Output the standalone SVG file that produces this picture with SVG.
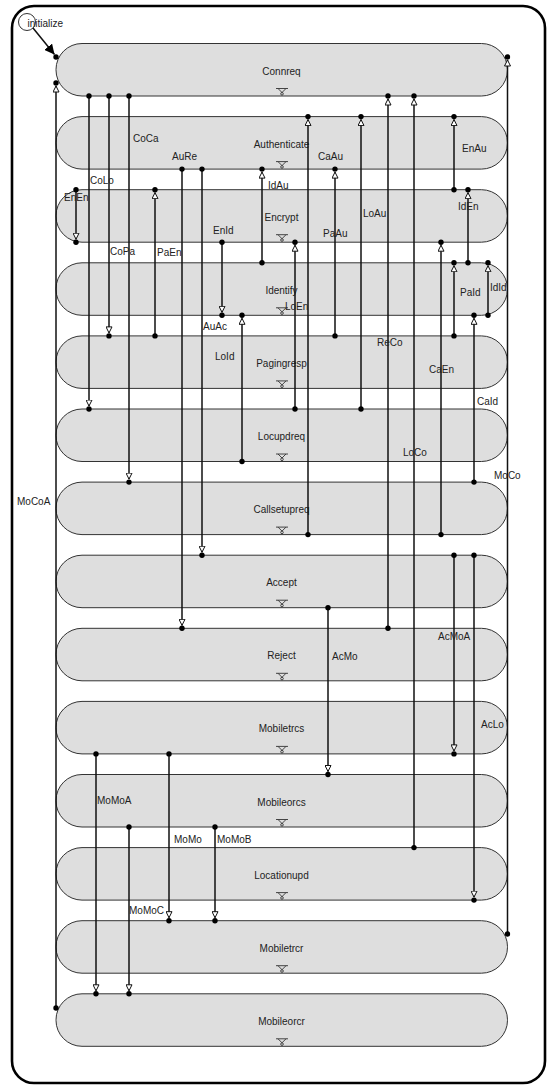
<svg xmlns="http://www.w3.org/2000/svg" width="547" height="1085" viewBox="0 0 547 1085">
<style>
.frame{fill:#fff;stroke:#000;stroke-width:2.6}
.node rect{fill:#dedede;stroke:#333;stroke-width:1}
.node text{font-family:"Liberation Sans",Arial,sans-serif;font-size:10px;fill:#222;text-anchor:middle}
.ico{fill:none;stroke:#333;stroke-width:0.9}
.c{fill:none;stroke:#111;stroke-width:1.5;marker-end:url(#ah)}
.d{fill:#000}
.lbl{font-family:"Liberation Sans",Arial,sans-serif;font-size:10px;fill:#222}
</style>
<defs>
<marker id="ah" viewBox="0 0 7 7" refX="6.5" refY="3.5" markerWidth="7" markerHeight="7" markerUnits="userSpaceOnUse" orient="auto">
<path d="M0.5,0.5 L6.5,3.5 L0.5,6.5 Z" fill="#fff" stroke="#111" stroke-width="1"/>
</marker>
<marker id="fh" viewBox="0 0 10 10" refX="10" refY="5" markerWidth="10" markerHeight="10" markerUnits="userSpaceOnUse" orient="auto">
<path d="M0,0 L10,5 L0,10 Z" fill="#000"/>
</marker>
<g id="ico" class="ico">
<path d="M-6,0 H6 M-4,0 L0,4 L4,0"/>
<circle cx="0" cy="5.3" r="1.3"/>
</g>
</defs>
<rect class="frame" x="12" y="6" width="533" height="1077" rx="22"/>

<g id="init">
<circle cx="27" cy="22" r="8.5" fill="#fff" stroke="#333" stroke-width="1"/>
<text class="lbl" x="27.5" y="27">initialize</text>
</g>

<g id="Connreq" class="node"><rect x="56" y="43.5" width="451.5" height="52.5" rx="26"/><text x="281.5" y="74.5">Connreq</text><use href="#ico" x="282" y="88.5"/></g>
<g id="Authenticate" class="node"><rect x="56" y="116.6" width="451.5" height="52.5" rx="26"/><text x="281.5" y="147.6">Authenticate</text><use href="#ico" x="282" y="161.6"/></g>
<g id="Encrypt" class="node"><rect x="56" y="189.7" width="451.5" height="52.5" rx="26"/><text x="281.5" y="220.7">Encrypt</text><use href="#ico" x="282" y="234.7"/></g>
<g id="Identify" class="node"><rect x="56" y="262.8" width="451.5" height="52.5" rx="26"/><text x="281.5" y="293.8">Identify</text><use href="#ico" x="282" y="307.8"/></g>
<g id="Pagingresp" class="node"><rect x="56" y="335.9" width="451.5" height="52.5" rx="26"/><text x="281.5" y="366.9">Pagingresp</text><use href="#ico" x="282" y="380.9"/></g>
<g id="Locupdreq" class="node"><rect x="56" y="409" width="451.5" height="52.5" rx="26"/><text x="281.5" y="440">Locupdreq</text><use href="#ico" x="282" y="454"/></g>
<g id="Callsetupreq" class="node"><rect x="56" y="482.1" width="451.5" height="52.5" rx="26"/><text x="281.5" y="513.1">Callsetupreq</text><use href="#ico" x="282" y="527.1"/></g>
<g id="Accept" class="node"><rect x="56" y="555.2" width="451.5" height="52.5" rx="26"/><text x="281.5" y="586.2">Accept</text><use href="#ico" x="282" y="600.2"/></g>
<g id="Reject" class="node"><rect x="56" y="628.3" width="451.5" height="52.5" rx="26"/><text x="281.5" y="659.3">Reject</text><use href="#ico" x="282" y="673.3"/></g>
<g id="Mobiletrcs" class="node"><rect x="56" y="701.4" width="451.5" height="52.5" rx="26"/><text x="281.5" y="732.4">Mobiletrcs</text><use href="#ico" x="282" y="746.4"/></g>
<g id="Mobileorcs" class="node"><rect x="56" y="774.5" width="451.5" height="52.5" rx="26"/><text x="281.5" y="805.5">Mobileorcs</text><use href="#ico" x="282" y="819.5"/></g>
<g id="Locationupd" class="node"><rect x="56" y="847.6" width="451.5" height="52.5" rx="26"/><text x="281.5" y="878.6">Locationupd</text><use href="#ico" x="282" y="892.6"/></g>
<g id="Mobiletrcr" class="node"><rect x="56" y="920.7" width="451.5" height="52.5" rx="26"/><text x="281.5" y="951.7">Mobiletrcr</text><use href="#ico" x="282" y="965.7"/></g>
<g id="Mobileorcr" class="node"><rect x="56" y="993.8" width="451.5" height="52.5" rx="26"/><text x="281.5" y="1024.8">Mobileorcr</text><use href="#ico" x="282" y="1038.8"/></g>

<g id="connectors">
<path d="M33,28 L54.5,54.5" fill="none" stroke="#111" stroke-width="1.5" marker-end="url(#fh)"/>
<circle class="d" cx="56" cy="57" r="2.7"/>

<path class="c" d="M56,1008 V86"/><circle class="d" cx="56" cy="1008" r="2.7"/><circle class="d" cx="56" cy="83" r="2.7"/>
<path class="c" d="M507.5,934 V60"/><circle class="d" cx="507.5" cy="934" r="2.7"/><circle class="d" cx="507.5" cy="57" r="2.7"/>

<path class="c" d="M89,96 V406"/><circle class="d" cx="89" cy="96" r="2.7"/><circle class="d" cx="89" cy="409" r="2.7"/>
<path class="c" d="M109,96 V332.9"/><circle class="d" cx="109" cy="96" r="2.7"/><circle class="d" cx="109" cy="335.9" r="2.7"/>
<path class="c" d="M129,96 V479.1"/><circle class="d" cx="129" cy="96" r="2.7"/><circle class="d" cx="129" cy="482.1" r="2.7"/>
<path class="c" d="M182,169.1 V625.3"/><circle class="d" cx="182" cy="169.1" r="2.7"/><circle class="d" cx="182" cy="628.3" r="2.7"/>
<path class="c" d="M202,169.1 V552.2"/><circle class="d" cx="202" cy="169.1" r="2.7"/><circle class="d" cx="202" cy="555.2" r="2.7"/>
<path class="c" d="M262,262.8 V172.1"/><circle class="d" cx="262" cy="262.8" r="2.7"/><circle class="d" cx="262" cy="169.1" r="2.7"/>
<path class="c" d="M308,534.6 V119.6"/><circle class="d" cx="308" cy="534.6" r="2.7"/><circle class="d" cx="308" cy="116.6" r="2.7"/>
<path class="c" d="M335,335.9 V172.1"/><circle class="d" cx="335" cy="335.9" r="2.7"/><circle class="d" cx="335" cy="169.1" r="2.7"/>
<path class="c" d="M361,409 V119.6"/><circle class="d" cx="361" cy="409" r="2.7"/><circle class="d" cx="361" cy="116.6" r="2.7"/>
<path class="c" d="M388,628.3 V99"/><circle class="d" cx="388" cy="628.3" r="2.7"/><circle class="d" cx="388" cy="96" r="2.7"/>
<path class="c" d="M414,847.6 V99"/><circle class="d" cx="414" cy="847.6" r="2.7"/><circle class="d" cx="414" cy="96" r="2.7"/>
<path class="c" d="M441,534.6 V245.2"/><circle class="d" cx="441" cy="534.6" r="2.7"/><circle class="d" cx="441" cy="242.2" r="2.7"/>
<path class="c" d="M454,189.7 V119.6"/><circle class="d" cx="454" cy="189.7" r="2.7"/><circle class="d" cx="454" cy="116.6" r="2.7"/>
<path class="c" d="M468,262.8 V192.7"/><circle class="d" cx="468" cy="262.8" r="2.7"/><circle class="d" cx="468" cy="189.7" r="2.7"/>
<path class="c" d="M76,189.7 V239.2"/><circle class="d" cx="76" cy="189.7" r="2.7"/><circle class="d" cx="76" cy="242.2" r="2.7"/>
<path class="c" d="M155,335.9 V192.7"/><circle class="d" cx="155" cy="335.9" r="2.7"/><circle class="d" cx="155" cy="189.7" r="2.7"/>
<path class="c" d="M222,242.2 V312.3"/><circle class="d" cx="222" cy="242.2" r="2.7"/><circle class="d" cx="222" cy="315.3" r="2.7"/>
<path class="c" d="M242,461.5 V318.3"/><circle class="d" cx="242" cy="461.5" r="2.7"/><circle class="d" cx="242" cy="315.3" r="2.7"/>
<path class="c" d="M295,409 V245.2"/><circle class="d" cx="295" cy="409" r="2.7"/><circle class="d" cx="295" cy="242.2" r="2.7"/>
<path class="c" d="M454,335.9 V265.8"/><circle class="d" cx="454" cy="335.9" r="2.7"/><circle class="d" cx="454" cy="262.8" r="2.7"/>
<path class="c" d="M488,315.3 V265.8"/><circle class="d" cx="488" cy="315.3" r="2.7"/><circle class="d" cx="488" cy="262.8" r="2.7"/>
<path class="c" d="M474,482.1 V318.3"/><circle class="d" cx="474" cy="482.1" r="2.7"/><circle class="d" cx="474" cy="315.3" r="2.7"/>
<path class="c" d="M328,607.7 V771.5"/><circle class="d" cx="328" cy="607.7" r="2.7"/><circle class="d" cx="328" cy="774.5" r="2.7"/>
<path class="c" d="M454,555.2 V750.9"/><circle class="d" cx="454" cy="555.2" r="2.7"/><circle class="d" cx="454" cy="753.9" r="2.7"/>
<path class="c" d="M474,555.2 V897.1"/><circle class="d" cx="474" cy="555.2" r="2.7"/><circle class="d" cx="474" cy="900.1" r="2.7"/>
<path class="c" d="M96,753.9 V990.8"/><circle class="d" cx="96" cy="753.9" r="2.7"/><circle class="d" cx="96" cy="993.8" r="2.7"/>
<path class="c" d="M169,753.9 V917.7"/><circle class="d" cx="169" cy="753.9" r="2.7"/><circle class="d" cx="169" cy="920.7" r="2.7"/>
<path class="c" d="M129,827 V990.8"/><circle class="d" cx="129" cy="827" r="2.7"/><circle class="d" cx="129" cy="993.8" r="2.7"/>
<path class="c" d="M215,827 V917.7"/><circle class="d" cx="215" cy="827" r="2.7"/><circle class="d" cx="215" cy="920.7" r="2.7"/>

<text class="lbl" x="17" y="504.5">MoCoA</text>
<text class="lbl" x="494" y="479">MoCo</text>
<text class="lbl" x="90" y="184">CoLo</text>
<text class="lbl" x="110" y="255">CoPa</text>
<text class="lbl" x="133" y="141.5">CoCa</text>
<text class="lbl" x="172" y="160">AuRe</text>
<text class="lbl" x="203" y="330">AuAc</text>
<text class="lbl" x="268" y="188.5">IdAu</text>
<text class="lbl" x="318" y="160">CaAu</text>
<text class="lbl" x="323" y="236.5">PaAu</text>
<text class="lbl" x="363" y="216.5">LoAu</text>
<text class="lbl" x="377" y="346">ReCo</text>
<text class="lbl" x="403" y="456">LoCo</text>
<text class="lbl" x="429" y="373">CaEn</text>
<text class="lbl" x="462" y="152">EnAu</text>
<text class="lbl" x="458" y="210">IdEn</text>
<text class="lbl" x="64" y="201">EnEn</text>
<text class="lbl" x="157" y="256">PaEn</text>
<text class="lbl" x="213" y="234">EnId</text>
<text class="lbl" x="215" y="360">LoId</text>
<text class="lbl" x="285" y="310">LoEn</text>
<text class="lbl" x="460" y="296">PaId</text>
<text class="lbl" x="490" y="291">IdId</text>
<text class="lbl" x="477" y="405">CaId</text>
<text class="lbl" x="332" y="660">AcMo</text>
<text class="lbl" x="438" y="640">AcMoA</text>
<text class="lbl" x="481" y="728">AcLo</text>
<text class="lbl" x="97" y="804">MoMoA</text>
<text class="lbl" x="174" y="843">MoMo</text>
<text class="lbl" x="129" y="914">MoMoC</text>
<text class="lbl" x="217" y="843">MoMoB</text>
</g>
</svg>
